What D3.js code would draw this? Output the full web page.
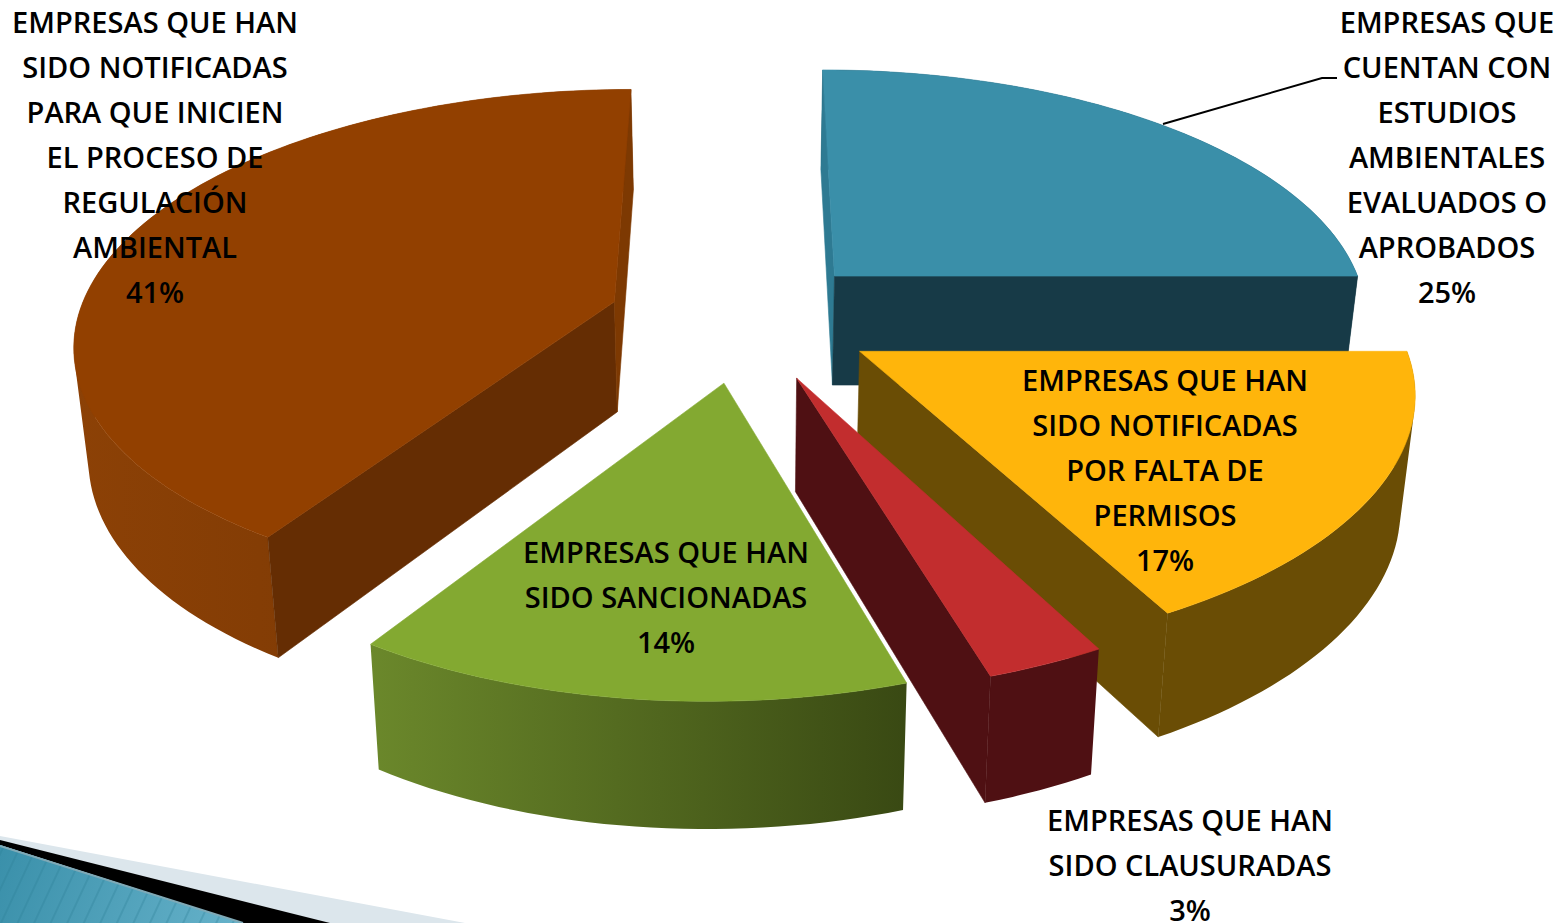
<!DOCTYPE html>
<html><head><meta charset="utf-8">
<script src="https://cdnjs.cloudflare.com/ajax/libs/d3/7.8.5/d3.min.js"></script>
<style>html,body{margin:0;padding:0;background:#fff;overflow:hidden}svg{display:block}
text{font-family:"Open Sans",sans-serif;font-size:29px;font-weight:600;fill:#000;text-anchor:middle;dominant-baseline:central}</style>
</head><body>
<svg id="c" width="1565" height="923"></svg>
<script>
const categories=["EMPRESAS QUE CUENTAN CON ESTUDIOS AMBIENTALES EVALUADOS O APROBADOS","EMPRESAS QUE HAN SIDO NOTIFICADAS POR FALTA DE PERMISOS","EMPRESAS QUE HAN SIDO CLAUSURADAS","EMPRESAS QUE HAN SIDO SANCIONADAS","EMPRESAS QUE HAN SIDO NOTIFICADAS PARA QUE INICIEN EL PROCESO DE REGULACIÓN AMBIENTAL"];
const values=[25,17,3,14,41];
const labelLines=[["EMPRESAS QUE","CUENTAN CON","ESTUDIOS","AMBIENTALES","EVALUADOS O","APROBADOS"],["EMPRESAS QUE HAN","SIDO NOTIFICADAS","POR FALTA DE","PERMISOS"],["EMPRESAS QUE HAN","SIDO CLAUSURADAS"],["EMPRESAS QUE HAN","SIDO SANCIONADAS"],["EMPRESAS QUE HAN","SIDO NOTIFICADAS","PARA QUE INICIEN","EL PROCESO DE","REGULACIÓN","AMBIENTAL"]];
const labelPos=[[1447,21],[1165,379],[1190,819],[666,551],[155,21]];
const topColors=["#3A8FA9","#FFB50B","#C22D2E","#83A931","#924000"];
const startWallColors=["#2E7A92","#6A4D05","#4F1013","#3A4A12","#652D03"];
const endWallColors=["#173A47","#6A4D05","#4F1013","#3A4A12","#7D3902"];
const arcColors=[["#173A47","#173A47"],["#6A4D05","#6A4D05"],["#4F1013","#4F1013"],["#6B882B","#394913"],["#8C4106","#743503"]];
const paintOrder=[4,0,1,3,2];

// camera
const vx=742,y0=319,A=537,B=249,k=0.15,explodeX=0.25,explodeY=0.25;
const project=(gx,gf)=>{const s=1/(1-k*gf);return [vx+A*gx*s-(10+7*gx)*Math.pow(Math.max(0,gf),2),y0+B*gf*s];};
const down=([x,y])=>[vx+(x-vx)*0.978,y+110+0.0443*(y-300)];

const svg=d3.select("#c");
const defs=svg.append("defs");
const line=d3.line();

// background decoration
const deco=defs.append("linearGradient").attr("id","teal").attr("gradientUnits","userSpaceOnUse").attr("x1",0).attr("x2",240).attr("y1",850).attr("y2",923);
deco.append("stop").attr("offset",0).attr("stop-color","#3A90AA");
deco.append("stop").attr("offset",1).attr("stop-color","#66B2CA");
const stripes=defs.append("pattern").attr("id","stripes").attr("patternUnits","userSpaceOnUse").attr("width",15).attr("height",15).attr("patternTransform","rotate(25)");
stripes.append("rect").attr("width",2).attr("height",15).attr("fill","#2C7D96").attr("opacity",0.3);
svg.append("path").attr("d","M0,836L465,923L0,923Z").attr("fill","#DCE6EC");
svg.append("path").attr("d","M0,840L330,923L243,923L0,845Z").attr("fill","#000");
svg.append("path").attr("d","M0,845L243,923L0,923Z").attr("fill","url(#teal)");
svg.append("path").attr("d","M0,845L243,923L0,923Z").attr("fill","url(#stripes)");
svg.append("path").attr("d","M0,846L243,923").attr("stroke","#7FA9B6").attr("stroke-width",2).attr("fill","none");

const pie=d3.pie().sort(null).value(d=>d)(values);
const data=pie.map((p,i)=>{
  const mid=(p.startAngle+p.endAngle)/2;
  const ax=explodeX*Math.sin(mid),af=-explodeY*Math.cos(mid);
  const pt=t=>project(ax+Math.sin(t),af-Math.cos(t));
  const n=Math.max(6,Math.round((p.endAngle-p.startAngle)*40));
  const arcPts=d3.range(n+1).map(j=>pt(p.startAngle+(p.endAngle-p.startAngle)*j/n));
  return {i,apex:project(ax,af),arcPts};
});
const g=svg.append("g");
const shape=(pts,fill)=>g.append("path").attr("d",line(pts)+"Z").attr("fill",fill).attr("stroke",fill).attr("stroke-width",0.6).attr("stroke-linejoin","round");
paintOrder.forEach(i=>{
  const d=data[i];
  const grad=defs.append("linearGradient").attr("id","arc"+i).attr("gradientUnits","userSpaceOnUse")
    .attr("x1",d3.min(d.arcPts,p=>p[0])).attr("x2",d3.max(d.arcPts,p=>p[0])).attr("y1",0).attr("y2",0);
  grad.append("stop").attr("offset",0).attr("stop-color",arcColors[i][0]);
  grad.append("stop").attr("offset",1).attr("stop-color",arcColors[i][1]);
  // one compound path, so the outer wall has no seams between its segments
  const quads=d3.pairs(d.arcPts).map(([a,b])=>{
    const q=[a,b,down(b),down(a)];
    return line(d3.polygonArea(q)<0?q.reverse():q)+"Z";
  }).join("");
  g.append("path").attr("d",quads).attr("fill",`url(#arc${i})`).attr("fill-rule","nonzero");
  const first=d.arcPts[0],last=d.arcPts[d.arcPts.length-1];
  const sq=[d.apex,first,down(first),down(d.apex)];
  const eq=[last,d.apex,down(d.apex),down(last)];
  if(d3.polygonArea(sq)>0) shape(sq,startWallColors[i]);
  if(d3.polygonArea(eq)>0) shape(eq,endWallColors[i]);
  shape([d.apex,...d.arcPts],topColors[i]);
});

// leader
svg.append("path").attr("d","M1163,124L1322,78L1337,78").attr("fill","none").attr("stroke","#000").attr("stroke-width",2);

// labels
labelLines.forEach((ls,i)=>{
  const t=svg.append("text");
  ls.concat(values[i]+"%").forEach((s,j)=>{
    t.append("tspan").attr("x",labelPos[i][0]).attr("y",labelPos[i][1]+j*45).text(s);
  });
});
</script>
</body></html>
